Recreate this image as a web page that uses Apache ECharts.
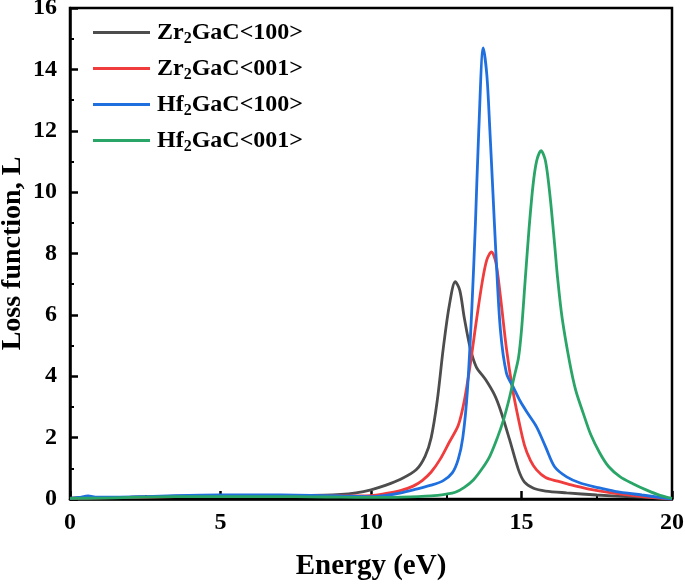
<!DOCTYPE html>
<html>
<head>
<meta charset="utf-8">
<script src="https://cdn.jsdelivr.net/npm/echarts@6/dist/echarts.min.js"></script>
<style>html,body{margin:0;padding:0;background:#fff}#c{width:685px;height:585px}</style>
</head>
<body>
<div id="c"></div>
<script>
var seriesNames = ['Zr2GaC<100>', 'Zr2GaC<001>', 'Hf2GaC<100>', 'Hf2GaC<001>'];
var seriesColors = ['#4d4d4d', '#f03c3c', '#1f6fdf', '#2aa568'];
var xTitle = 'Energy (eV)';
var yTitle = 'Loss function, L';

var zr100 = [[0,0.03],[0.5,0.05],[1,0.05],[2,0.06],[3,0.08],[4,0.1],[5,0.12],[6,0.12],[7,0.12],[8,0.12],[9,0.15],[9.5,0.2],[10,0.3],[10.5,0.45],[11,0.65],[11.5,0.95],[11.8,1.4],[12,2.0],[12.2,3.2],[12.4,4.9],[12.6,6.3],[12.8,7.08],[12.95,6.8],[13.1,5.9],[13.3,4.9],[13.5,4.3],[13.8,3.9],[14.1,3.4],[14.3,2.9],[14.6,1.95],[14.9,0.95],[15.1,0.55],[15.4,0.35],[15.8,0.26],[16.5,0.2],[17.5,0.13],[18.5,0.08],[19.5,0.04],[20,0.02]];
var zr001 = [[0,0.02],[1,0.04],[2,0.05],[3,0.07],[4,0.09],[5,0.1],[6,0.1],[7,0.1],[8,0.1],[9,0.1],[10,0.11],[10.5,0.18],[11,0.28],[11.4,0.42],[11.7,0.6],[12,0.88],[12.3,1.3],[12.6,1.85],[12.9,2.4],[13.1,3.2],[13.3,4.4],[13.5,5.8],[13.7,7.1],[13.85,7.8],[14.0,8.05],[14.15,7.7],[14.3,6.6],[14.5,4.9],[14.7,3.6],[14.9,2.6],[15.1,1.75],[15.3,1.25],[15.5,0.95],[15.8,0.7],[16.2,0.58],[16.6,0.47],[17.2,0.33],[18,0.2],[19,0.08],[20,0]];
var hf100 = [[0,0.02],[0.3,0.05],[0.6,0.1],[0.9,0.06],[1.5,0.06],[2.5,0.08],[3.5,0.11],[5,0.13],[6,0.13],[7,0.13],[8,0.12],[9,0.1],[10,0.08],[10.5,0.12],[11,0.2],[11.5,0.32],[12,0.45],[12.4,0.6],[12.7,0.85],[12.9,1.3],[13.05,2.0],[13.2,3.5],[13.35,6.2],[13.47,9.0],[13.58,12.0],[13.73,14.7],[13.85,13.8],[13.95,12.0],[14.05,10.0],[14.15,8.0],[14.3,5.5],[14.5,4.1],[14.75,3.6],[14.95,3.2],[15.2,2.8],[15.5,2.35],[15.8,1.7],[16.1,1.05],[16.5,0.72],[16.95,0.52],[17.5,0.38],[18.1,0.25],[19,0.13],[20,0]];
var hf001 = [[0,0.02],[1,0.03],[2,0.05],[3,0.07],[4,0.08],[5,0.08],[6,0.08],[7,0.08],[8,0.07],[9,0.06],[10,0.05],[11,0.06],[12,0.1],[12.5,0.16],[12.8,0.22],[13.1,0.38],[13.4,0.62],[13.7,1.0],[13.95,1.4],[14.2,2.0],[14.4,2.57],[14.6,3.3],[14.75,3.95],[14.9,4.6],[15.0,5.5],[15.12,7.1],[15.25,8.8],[15.38,10.2],[15.5,11.0],[15.65,11.35],[15.8,11.0],[15.95,9.85],[16.1,8.3],[16.2,7.2],[16.35,5.9],[16.6,4.45],[16.8,3.55],[17.05,2.8],[17.3,2.1],[17.6,1.5],[17.9,1.05],[18.27,0.73],[18.7,0.5],[19.16,0.29],[19.6,0.12],[20,0.02]];
var allData = [zr100, zr001, hf100, hf001];

var FONT = '"Liberation Serif", "Times New Roman", serif';
var chart = echarts.init(document.getElementById('c'));

var series = seriesNames.map(function (n, i) {
  return {
    name: n, type: 'line', data: allData[i], showSymbol: false,
    smooth: 0.3,
    lineStyle: { color: seriesColors[i], width: 2.8 },
    itemStyle: { color: seriesColors[i] }
  };
});

chart.setOption({
  animation: false,
  backgroundColor: '#fff',
  grid: { left: 70, right: 13, top: 8, bottom: 86, show: true, borderColor: '#000', borderWidth: 2.5,
          containLabel: false, outerBoundsMode: 'none' },
  legend: {
    orient: 'vertical', left: 88, top: 13, itemGap: 7,
    icon: 'rect', itemWidth: 57, itemHeight: 3,
    data: seriesNames,
    formatter: function (n) {
      var m = n.match(/^([A-Za-z]+)(\d)(.*)$/);
      return '{b|' + m[1] + '}{s|' + m[2] + '}{b|' + m[3] + '}';
    },
    textStyle: {
      padding: [0, 0, 0, 2],
      rich: {
        b: { fontFamily: FONT, fontWeight: 'bold', fontSize: 24, color: '#000', lineHeight: 26 },
        s: { fontFamily: FONT, fontWeight: 'bold', fontSize: 16, color: '#000', padding: [13, 0, 0, 0], lineHeight: 26 }
      }
    }
  },
  xAxis: {
    type: 'value', min: 0, max: 20, interval: 5,
    name: xTitle, nameLocation: 'middle', nameGap: 53, nameMoveOverlap: false,
    nameTextStyle: { fontFamily: FONT, fontWeight: 'bold', fontSize: 29, color: '#000' },
    axisLine: { show: true, lineStyle: { color: '#000', width: 2.5 } },
    axisTick: { show: true, inside: true, length: 8, lineStyle: { color: '#000', width: 2.5 } },
    minorTick: { show: true, splitNumber: 2, length: 4, lineStyle: { color: '#000', width: 2 } },
    axisLabel: { margin: 12, fontFamily: FONT, fontWeight: 'bold', fontSize: 24, color: '#000' },
    splitLine: { show: false }
  },
  yAxis: {
    type: 'value', min: 0, max: 16, interval: 2,
    name: yTitle, nameLocation: 'middle', nameGap: 43, nameMoveOverlap: false,
    nameTextStyle: { fontFamily: FONT, fontWeight: 'bold', fontSize: 28, color: '#000' },
    axisLine: { show: true, lineStyle: { color: '#000', width: 2.5 } },
    axisTick: { show: true, inside: true, length: 8, lineStyle: { color: '#000', width: 2.5 } },
    minorTick: { show: true, splitNumber: 2, length: 4, lineStyle: { color: '#000', width: 2 } },
    axisLabel: { margin: 13, fontFamily: FONT, fontWeight: 'bold', fontSize: 24, color: '#000' },
    splitLine: { show: false }
  },
  series: series
});
</script>
</body>
</html>
